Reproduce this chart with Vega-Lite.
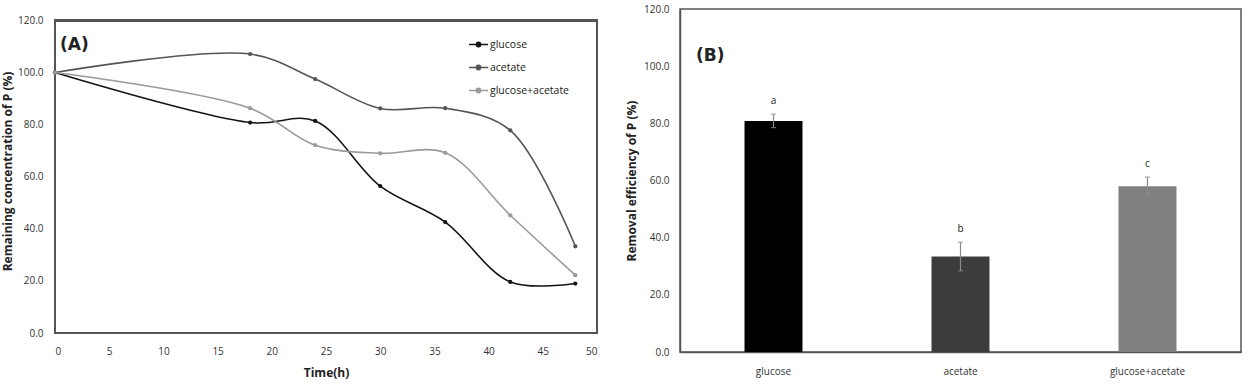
{
  "$schema": "https://vega.github.io/schema/vega-lite/v6.json",
  "background": "white",
  "padding": {"left": 1, "top": 3, "right": 0, "bottom": 4},
  "spacing": 26,
  "resolve": {"scale": {"color": "independent"}, "legend": {"color": "independent"}},
  "config": {
    "font": "Open Sans",
    "view": {"stroke": "#555", "strokeWidth": 1.5},
    "axis": {
      "labelFont": "Open Sans",
      "labelFontSize": 10,
      "labelColor": "#333",
      "titleFont": "Open Sans",
      "titleFontSize": 12,
      "titleFontWeight": "bold",
      "titleColor": "#222",
      "ticks": false,
      "grid": false,
      "domainColor": "#555",
      "domainWidth": 1.5
    },
    "title": {
      "font": "DejaVu Sans",
      "fontSize": 17,
      "fontWeight": "bold",
      "color": "#222",
      "anchor": "start",
      "frame": "group"
    }
  },
  "hconcat": [
    {
      "width": 542,
      "height": 324,
      "view": {"stroke": null},
      "title": {"text": "(A)", "dx": 5, "offset": -45},
      "data": {
        "values": [
          {"time": 0, "carbon": "glucose", "remaining": 100.0},
          {"time": 18, "carbon": "glucose", "remaining": 80.8},
          {"time": 24, "carbon": "glucose", "remaining": 81.4},
          {"time": 30, "carbon": "glucose", "remaining": 56.4},
          {"time": 36, "carbon": "glucose", "remaining": 42.6},
          {"time": 42, "carbon": "glucose", "remaining": 19.6},
          {"time": 48, "carbon": "glucose", "remaining": 19.0},
          {"time": 0, "carbon": "acetate", "remaining": 100.0},
          {"time": 18, "carbon": "acetate", "remaining": 107.1},
          {"time": 24, "carbon": "acetate", "remaining": 97.5},
          {"time": 30, "carbon": "acetate", "remaining": 86.2},
          {"time": 36, "carbon": "acetate", "remaining": 86.3},
          {"time": 42, "carbon": "acetate", "remaining": 77.8},
          {"time": 48, "carbon": "acetate", "remaining": 33.3},
          {"time": 0, "carbon": "glucose+acetate", "remaining": 100.0},
          {"time": 18, "carbon": "glucose+acetate", "remaining": 86.3},
          {"time": 24, "carbon": "glucose+acetate", "remaining": 72.1},
          {"time": 30, "carbon": "glucose+acetate", "remaining": 69.0},
          {"time": 36, "carbon": "glucose+acetate", "remaining": 69.2},
          {"time": 42, "carbon": "glucose+acetate", "remaining": 45.2},
          {"time": 48, "carbon": "glucose+acetate", "remaining": 22.2}
        ]
      },
      "encoding": {
        "x": {
          "field": "time",
          "type": "quantitative",
          "title": "Time(h)",
          "scale": {"domain": [0, 50], "nice": false},
          "axis": {"values": [0, 5, 10, 15, 20, 25, 30, 35, 40, 45, 50], "domain": false, "labelPadding": 13, "titlePadding": 11}
        },
        "y": {
          "field": "remaining",
          "type": "quantitative",
          "title": "Remaining concentration of P (%)",
          "scale": {"domain": [0, 124.4], "nice": false, "zero": true},
          "axis": {"values": [0, 20, 40, 60, 80, 100, 120], "format": ".1f", "domain": false, "labelPadding": 12, "titlePadding": 3}
        }
      },
      "layer": [
        {
          "mark": {"type": "rect", "fillOpacity": 0, "stroke": "#555", "strokeWidth": 1.5},
          "encoding": {
            "x": {"datum": 0},
            "x2": {"datum": 50},
            "y": {"datum": 0},
            "y2": {"datum": 120}
          }
        },
        {
          "mark": {"type": "line", "interpolate": "catmull-rom", "strokeWidth": 1.6},
          "encoding": {
            "color": {
              "field": "carbon",
              "type": "nominal",
              "scale": {"domain": ["glucose", "acetate", "glucose+acetate"], "range": ["#141414", "#555555", "#9a9a9a"]},
              "legend": {
                "orient": "none",
                "legendX": 413,
                "legendY": 25,
                "title": null,
                "symbolType": "M-1,0H1M-0.22,0A0.22,0.22 0 1,1 0.22,0A0.22,0.22 0 1,1 -0.22,0Z",
                "symbolSize": 361,
                "symbolStrokeWidth": 1.6,
                "labelFont": "Open Sans",
                "labelFontSize": 10.5,
                "labelColor": "#222",
                "labelOffset": 1,
                "rowPadding": 7
              }
            }
          }
        },
        {
          "mark": {"type": "point", "filled": true, "size": 18, "opacity": 1},
          "encoding": {
            "color": {"field": "carbon", "type": "nominal", "legend": null}
          }
        }
      ]
    },
    {
      "width": 561,
      "height": 343,
      "title": {"text": "(B)", "dx": 16, "offset": -61},
      "data": {
        "values": [
          {"carbon": "glucose", "removal": 80.8, "low": 78.5, "high": 83.2, "group": "a"},
          {"carbon": "acetate", "removal": 33.4, "low": 28.4, "high": 38.4, "group": "b"},
          {"carbon": "glucose+acetate", "removal": 58.0, "low": 54.8, "high": 61.2, "group": "c"}
        ]
      },
      "encoding": {
        "x": {
          "field": "carbon",
          "type": "nominal",
          "sort": ["glucose", "acetate", "glucose+acetate"],
          "title": null,
          "scale": {"paddingInner": 0.69, "paddingOuter": 0.345},
          "axis": {"labelAngle": 0, "labelPadding": 14}
        }
      },
      "layer": [
        {
          "mark": {"type": "bar"},
          "encoding": {
            "y": {
              "field": "removal",
              "type": "quantitative",
              "title": "Removal efficiency of P (%)",
              "scale": {"domain": [0, 120], "nice": false},
              "axis": {"values": [0, 20, 40, 60, 80, 100, 120], "format": ".1f", "labelPadding": 11, "titlePadding": 5}
            },
            "color": {
              "field": "carbon",
              "type": "nominal",
              "scale": {"domain": ["glucose", "acetate", "glucose+acetate"], "range": ["#000000", "#3c3c3c", "#808080"]},
              "legend": null
            }
          }
        },
        {
          "mark": {"type": "errorbar", "ticks": {"size": 5}, "color": "#8a8a8a", "thickness": 1.2},
          "encoding": {
            "y": {"field": "low", "type": "quantitative", "title": "Removal efficiency of P (%)"},
            "y2": {"field": "high"}
          }
        },
        {
          "mark": {"type": "text", "baseline": "middle", "dy": -13, "font": "Open Sans", "fontSize": 10, "color": "#222"},
          "encoding": {
            "y": {"field": "high", "type": "quantitative", "title": "Removal efficiency of P (%)"},
            "text": {"field": "group"}
          }
        }
      ]
    }
  ]
}
